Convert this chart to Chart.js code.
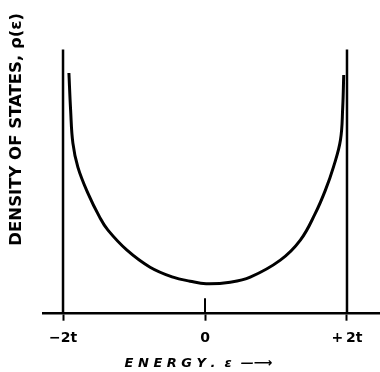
<!DOCTYPE html>
<html>
<head>
<meta charset="utf-8">
<script src="https://cdn.jsdelivr.net/npm/chart.js@4"></script>
<style>
  html, body { margin: 0; padding: 0; background: #fff; }
  .wrap { position: relative; width: 380px; height: 372px; }
</style>
</head>
<body>
<div class="wrap"><canvas id="dos"></canvas></div>
<script>
// curve (energy in units of t, density arbitrary)
const energy = [-1.917, -1.893, -1.861, -1.791, -1.650, -1.484, -1.367, -1.099, -0.774, -0.450, -0.210, 0.016,
  0.355, 0.637, 1.061, 1.343, 1.555, 1.696, 1.809, 1.908, 1.940, 1.954];
const density = [2.405, 2.035, 1.705, 1.465, 1.205, 0.965, 0.835, 0.635, 0.465, 0.365, 0.325, 0.300,
  0.315, 0.365, 0.535, 0.735, 1.005, 1.235, 1.465, 1.735, 2.065, 2.385];

// band edges drawn as vertical lines
const bandEdges = [-2, 2];
const edgeHeight = 2.64;
const zeroMark = 0.155;

const tickValues = [-2, 0, 2];
const tickLabels = ["\u22122t", "0", "+\u20092t"];

const curve = energy.map((e, i) => ({ x: e, y: density[i] }));

const edgeSets = bandEdges.map(e => ({
  data: [{ x: e, y: 0 }, { x: e, y: edgeHeight }],
  borderColor: "#000",
  borderWidth: 2.5,
  pointRadius: 0,
}));

new Chart(document.getElementById("dos"), {
  type: "line",
  data: {
    datasets: [
      {
        data: curve,
        borderColor: "#000",
        borderWidth: 3,
        pointRadius: 0,
        tension: 0.4,
      },
      ...edgeSets,
      {
        data: [{ x: 0, y: 0 }, { x: 0, y: zeroMark }],
        borderColor: "#000",
        borderWidth: 2,
        pointRadius: 0,
      },
    ],
  },
  options: {
    responsive: true,
    maintainAspectRatio: false,
    animation: false,
    layout: { padding: { top: 13 } },
    plugins: {
      legend: { display: false },
      tooltip: { enabled: false },
    },
    scales: {
      x: {
        type: "linear",
        min: -2.282,
        max: 2.465,
        afterBuildTicks: (axis) => { axis.ticks = tickValues.map(v => ({ value: v })); },
        ticks: {
          color: "#000",
          padding: 9,
          font: { family: "DejaVu Sans", size: 14, weight: "bold" },
          callback: (v) => tickLabels[tickValues.indexOf(v)],
        },
        grid: {
          drawOnChartArea: false,
          drawTicks: true,
          tickLength: 7,
          tickWidth: 2,
          tickColor: "#000",
        },
        border: { display: true, color: "#000", width: 2.5 },
        title: {
          display: true,
          text: "E N E R G Y .  \u03B5  \u2014\u27F6\u2003\u2003",
          color: "#000",
          padding: { top: 0.7, bottom: 0.2 },
          font: { family: "DejaVu Sans", size: 13, weight: "bold", style: "italic" },
        },
      },
      y: {
        min: 0,
        max: 3.005,
        ticks: { display: false },
        grid: { display: false, drawTicks: false },
        border: { display: false },
        title: {
          display: true,
          align: "end",
          text: "DENSITY OF STATES, \u03C1(\u03B5)",
          color: "#000",
          padding: { top: 7.1, bottom: 16.1 },
          font: { family: "DejaVu Sans", size: 16.5, weight: "bold" },
        },
      },
    },
  },
});
</script>
</body>
</html>
